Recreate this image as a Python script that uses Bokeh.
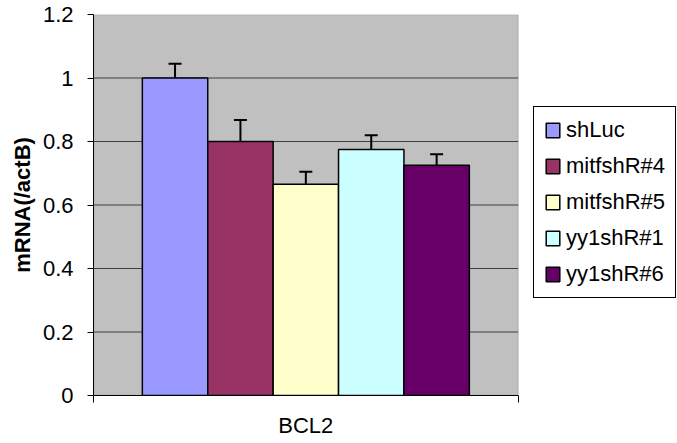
from bokeh.plotting import figure
from bokeh.models import (Range1d, FixedTicker, Whisker, TeeHead, Legend, LegendItem,
                          ColumnDataSource, CustomJSTickFormatter, BoxAnnotation)
from bokeh.transform import dodge
from bokeh.embed import file_html
from bokeh.resources import INLINE

# ---- data ----
categories = ["BCL2"]
series = ["shLuc", "mitfshR#4", "mitfshR#5", "yy1shR#1", "yy1shR#6"]
values = [1.00, 0.80, 0.665, 0.775, 0.725]
errors = [0.045, 0.068, 0.040, 0.045, 0.035]
colors = ["#9999FF", "#993366", "#FFFFCC", "#CCFFFF", "#660066"]
y_ticks = [0, 0.2, 0.4, 0.6, 0.8, 1.0, 1.2]

FONT = "Liberation Sans"
BAR_W = 0.154          # width of one bar, in category units
AREA_FRAC = 0.7272     # share of the frame width used by the plot area (rest holds the legend)

n_cat = len(categories)
n_ser = len(series)
y_max = y_ticks[-1]

p = figure(width=677, height=443, output_backend="svg", toolbar_location=None,
           x_range=Range1d(0, n_cat / AREA_FRAC), y_range=Range1d(0, y_max),
           min_border_left=93, min_border_right=0, min_border_top=14, min_border_bottom=48)

p.background_fill_color = "white"
p.border_fill_color = "white"
p.outline_line_color = None
p.xgrid.visible = False
p.ygrid.visible = False

# grey plot area with its border
p.add_layout(BoxAnnotation(left=0, right=n_cat, bottom=0, top=y_max,
                           fill_color="#C0C0C0", fill_alpha=1,
                           line_color="#808080", line_width=1.5, level="underlay"))

# horizontal grid lines across the plot area only
grid_src = ColumnDataSource(dict(y=y_ticks[1:-1]))
p.segment(x0=0, x1=n_cat, y0="y", y1="y", source=grid_src,
          line_color="#404040", line_width=1)

renderers = []
for j, s in enumerate(series):
    off = (j - (n_ser - 1) / 2) * BAR_W
    src = ColumnDataSource(dict(
        x=[k + 0.5 for k in range(n_cat)],
        top=[values[j]],
        upper=[values[j] + errors[j]],
    ))
    r = p.vbar(x=dodge("x", off), top="top", bottom=0, width=BAR_W, source=src,
               fill_color=colors[j], line_color="black", line_width=1.5)
    renderers.append(r)
    p.add_layout(Whisker(base=dodge("x", off), lower="top", upper="upper", source=src,
                         dimension="height", line_color="black", line_width=2,
                         upper_head=TeeHead(size=13, line_color="black", line_width=2),
                         lower_head=None, level="overlay"))

# y axis
ya = p.yaxis[0]
ya.ticker = FixedTicker(ticks=y_ticks)
ya.formatter = CustomJSTickFormatter(code="return tick.toFixed(1).replace(/\\.0$/, '');")
ya.axis_label = "mRNA(/actB)"
ya.axis_label_text_font = FONT
ya.axis_label_text_font_style = "bold"
ya.axis_label_text_font_size = "22px"
ya.axis_label_standoff = 5
ya.major_label_text_font = FONT
ya.major_label_text_font_size = "22px"
ya.major_label_standoff = 14
ya.major_tick_out = 6
ya.major_tick_in = 0
ya.minor_tick_line_color = None
ya.axis_line_color = "black"
ya.major_tick_line_color = "black"
ya.major_label_text_color = "black"
ya.axis_label_text_color = "black"

# x axis: category names at the centres, small ticks at the category boundaries
xa = p.xaxis[0]
xa.bounds = (0, n_cat)
xa.ticker = FixedTicker(ticks=[k + 0.5 for k in range(n_cat)],
                        minor_ticks=list(range(n_cat + 1)))
xa.formatter = CustomJSTickFormatter(args=dict(cats=categories),
                                     code="return cats[Math.floor(tick)] || '';")
xa.major_label_text_font = FONT
xa.major_label_text_font_size = "22px"
xa.major_label_text_color = "black"
xa.major_label_standoff = 10
xa.major_tick_line_color = None
xa.major_tick_out = 0
xa.major_tick_in = 0
xa.minor_tick_out = 7
xa.minor_tick_in = 0
xa.minor_tick_line_color = "black"
xa.axis_line_color = "black"

legend = Legend(items=[LegendItem(label=s, renderers=[r]) for s, r in zip(series, renderers)],
                location=(440, 97))
legend.label_text_font = FONT
legend.label_text_font_size = "22px"
legend.label_text_color = "black"
legend.glyph_width = 17
legend.glyph_height = 18
legend.label_height = 18
legend.label_standoff = 5
legend.spacing = 10
legend.padding = 10
legend.margin = 0
legend.border_line_color = "black"
legend.border_line_width = 1
legend.border_line_alpha = 1
legend.background_fill_color = "white"
legend.background_fill_alpha = 1
p.add_layout(legend, "center")

open("out.html", "w").write(file_html(p, INLINE))
